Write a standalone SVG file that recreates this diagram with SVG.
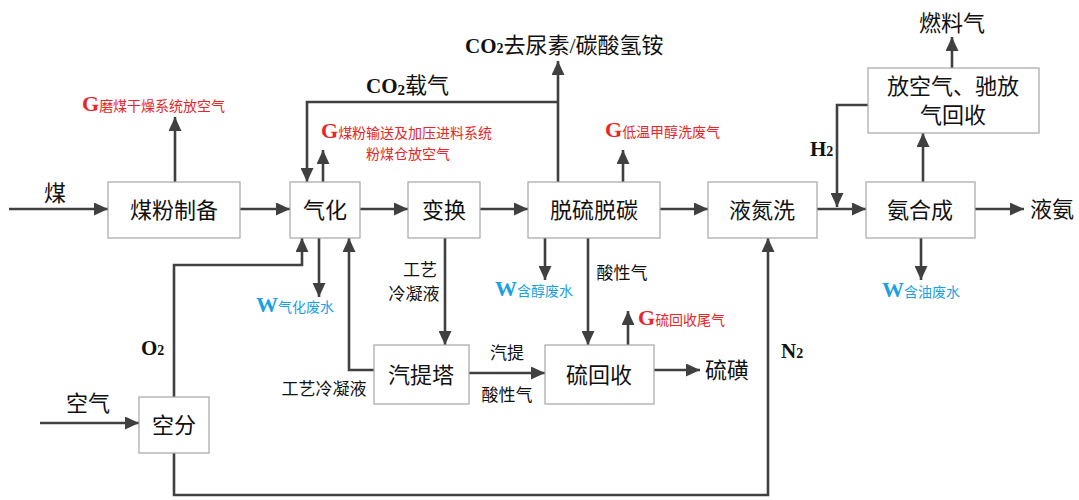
<svg xmlns="http://www.w3.org/2000/svg" width="1079" height="500" viewBox="0 0 1079 500">
<defs>
<marker id="ah" markerUnits="userSpaceOnUse" markerWidth="14" markerHeight="13" refX="14" refY="6.5" orient="auto">
<path d="M0,0 L14,6.5 L0,13 z" fill="#404040"/>
</marker>
<style>
.box{fill:#fff;stroke:#a6a6a6;stroke-width:1.2}
.ln{fill:none;stroke:#404040;stroke-width:2.6}
.ar{marker-end:url(#ah)}
.bt{font-family:"Liberation Serif","Noto Sans CJK SC",serif;font-size:22px;fill:#111;text-anchor:middle;dominant-baseline:central}
.t{font-family:"Liberation Serif","Noto Sans CJK SC",serif;font-size:22px;fill:#111}
.m{font-family:"Liberation Serif","Noto Sans CJK SC",serif;font-size:17px;fill:#111}
.b{font-family:"Liberation Serif","Noto Sans CJK SC",serif;font-weight:bold;fill:#111}
.r{font-family:"Liberation Serif","Noto Sans CJK SC",serif;fill:#e8262a;font-size:14px}
.w{font-family:"Liberation Serif","Noto Sans CJK SC",serif;fill:#1ba1e2;font-size:14px}
.big{font-weight:bold;font-size:22px}
</style>
</defs>
<rect width="1079" height="500" fill="#fff"/>
<g id="connectors">
<path class="ln ar" d="M9,209 H108"/>
<path class="ln ar" d="M240,209 H290"/>
<path class="ln ar" d="M360,209 H408"/>
<path class="ln ar" d="M480,209 H528"/>
<path class="ln ar" d="M660,209 H708"/>
<path class="ln ar" d="M817,209 H866"/>
<path class="ln ar" d="M975,209 H1024"/>
<path class="ln ar" d="M175,182 V117"/>
<path class="ln ar" d="M558,182 V61"/>
<path class="ln ar" d="M558,102 H307 V182"/>
<path class="ln ar" d="M323,182 V150"/>
<path class="ln ar" d="M623,182 V150"/>
<path class="ln ar" d="M174,397 V265 H302 V238"/>
<path class="ln ar" d="M319,238 V297"/>
<path class="ln ar" d="M374,370 H349 V238"/>
<path class="ln ar" d="M445,238 V345"/>
<path class="ln ar" d="M469,373 H545"/>
<path class="ln ar" d="M545,238 V280"/>
<path class="ln ar" d="M588,238 V345"/>
<path class="ln ar" d="M628,345 V311"/>
<path class="ln ar" d="M654,370 H700"/>
<path class="ln ar" d="M174,453 V495 H768 V238"/>
<path class="ln ar" d="M921,238 V280"/>
<path class="ln ar" d="M923,182 V133"/>
<path class="ln ar" d="M952,68 V37"/>
<path class="ln ar" d="M868,105 H837 V207"/>
<path class="ln ar" d="M40,423 H139"/>
</g>
<g id="n1"><rect class="box" x="108" y="182" width="132" height="56"/><text class="bt" x="174" y="210">煤粉制备</text></g>
<g id="n2"><rect class="box" x="290" y="182" width="70" height="56"/><text class="bt" x="325" y="210">气化</text></g>
<g id="n3"><rect class="box" x="408" y="182" width="72" height="56"/><text class="bt" x="444" y="210">变换</text></g>
<g id="n4"><rect class="box" x="528" y="182" width="132" height="56"/><text class="bt" x="594" y="210">脱硫脱碳</text></g>
<g id="n5"><rect class="box" x="708" y="182" width="109" height="56"/><text class="bt" x="762" y="210">液氮洗</text></g>
<g id="n6"><rect class="box" x="866" y="182" width="109" height="56"/><text class="bt" x="920" y="210">氨合成</text></g>
<g id="n7"><rect class="box" x="868" y="68" width="171" height="65"/><text class="bt" x="953" y="86">放空气、驰放</text><text class="bt" x="953" y="115">气回收</text></g>
<g id="n8"><rect class="box" x="374" y="345" width="95" height="59"/><text class="bt" x="421" y="375">汽提塔</text></g>
<g id="n9"><rect class="box" x="545" y="345" width="109" height="59"/><text class="bt" x="599" y="375">硫回收</text></g>
<g id="n10"><rect class="box" x="139" y="397" width="70" height="56"/><text class="bt" x="174" y="425">空分</text></g>
<g id="labels">
<text class="t" x="44" y="201">煤</text>
<text class="r" x="82" y="111"><tspan class="big" font-size="22">G</tspan>磨煤干燥系统放空气</text>
<text class="r" x="321" y="138"><tspan class="big" font-size="22">G</tspan>煤粉输送及加压进料系统</text>
<text class="r" x="366" y="159">粉煤仓放空气</text>
<text class="t" x="465" y="53" font-size="23"><tspan class="b" font-size="21">CO</tspan><tspan class="b" font-size="14">2</tspan>去尿素/碳酸氢铵</text>
<text class="t" x="366" y="93"><tspan class="b" font-size="21">CO</tspan><tspan class="b" font-size="15" dy="2">2</tspan><tspan dy="-2">载气</tspan></text>
<text class="r" x="605" y="137"><tspan class="big" font-size="22">G</tspan>低温甲醇洗废气</text>
<text class="t" x="952" y="31" text-anchor="middle">燃料气</text>
<text class="b" x="810" y="156" font-size="21">H<tspan font-size="14">2</tspan></text>
<text class="t" x="1030" y="217">液氨</text>
<text class="w" x="256" y="312"><tspan class="big" font-size="23">W</tspan>气化废水</text>
<text class="m" x="420" y="276" text-anchor="middle">工艺</text>
<text class="m" x="414" y="300" text-anchor="middle">冷凝液</text>
<text class="w" x="495" y="296"><tspan class="big" font-size="23">W</tspan>含醇废水</text>
<text class="m" x="622" y="279" text-anchor="middle">酸性气</text>
<text class="r" x="638" y="325"><tspan class="big" font-size="22">G</tspan>硫回收尾气</text>
<text class="m" x="507" y="359" text-anchor="middle">汽提</text>
<text class="m" x="507" y="401" text-anchor="middle">酸性气</text>
<text class="m" x="324" y="395" text-anchor="middle">工艺冷凝液</text>
<text class="t" x="705" y="378">硫磺</text>
<text class="b" x="141" y="355" font-size="21">O<tspan font-size="14">2</tspan></text>
<text class="t" x="66" y="411">空气</text>
<text class="b" x="781" y="358" font-size="21">N<tspan font-size="14">2</tspan></text>
<text class="w" x="882" y="297"><tspan class="big" font-size="23">W</tspan>含油废水</text>
</g>
</svg>
